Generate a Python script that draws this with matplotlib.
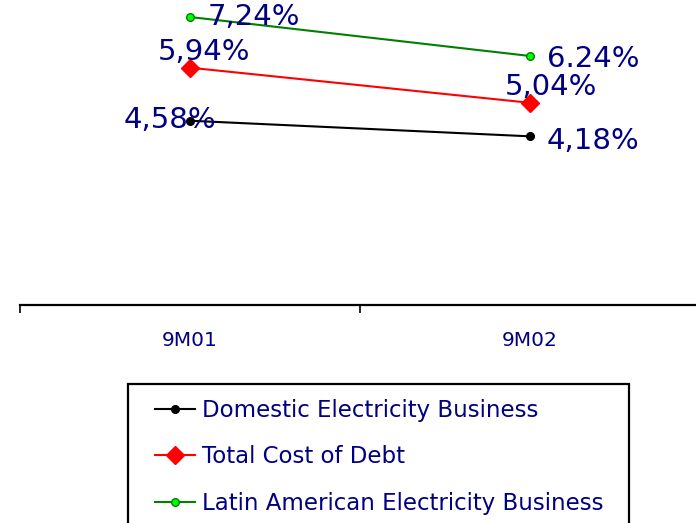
import matplotlib
matplotlib.use("Agg")
import matplotlib.pyplot as plt
from matplotlib.patches import Rectangle

categories = ["9M01", "9M02"]
domestic = [4.58, 4.18]
total_cost = [5.94, 5.04]
latam = [7.24, 6.24]
domestic_labels = ["4,58%", "4,18%"]
total_labels = ["5,94%", "5,04%"]
latam_labels = ["7,24%", "6.24%"]
series_names = ["Domestic Electricity Business", "Total Cost of Debt",
                "Latin American Electricity Business"]

W, H = 696, 523
fig = plt.figure(figsize=(W / 100, H / 100), dpi=100)
ax = fig.add_axes([20 / W, (H - 305) / H, 680 / W, 305 / H])

x = list(range(len(categories)))
label_color = "#000080"

l1, = ax.plot(x, domestic, color="black", lw=1.5, marker="o", ms=5.5,
              mfc="black", mec="black", label=series_names[0])
l2, = ax.plot(x, total_cost, color="red", lw=1.5, marker="D", ms=9,
              mfc="red", mec="red", label=series_names[1])
l3, = ax.plot(x, latam, color="#008000", lw=1.5, marker="o", ms=5.5,
              mfc="#00ff00", mec="#008000", mew=1, label=series_names[2])

fs = 21
# data labels
offs_latam = [(18, 0, "left"), (17, -3, "left")]
offs_total = [(14, 16, "center"), (21, 16, "center")]
offs_dom = [(-20, 1, "center"), (17, -5, "left")]
for vals, labs, offs in [(latam, latam_labels, offs_latam),
                         (total_cost, total_labels, offs_total),
                         (domestic, domestic_labels, offs_dom)]:
    for xi, v, lab, (dx, dy, ha) in zip(x, vals, labs, offs):
        ax.annotate(lab, (xi, v), xytext=(dx, dy), textcoords="offset pixels",
                    ha=ha, va="center", fontsize=fs, color=label_color)

ax.set_xlim(-0.5, 1.5)
ax.set_ylim(-0.145, 7.24 + 17 / 39)

for s in ["top", "left", "right"]:
    ax.spines[s].set_visible(False)
ax.spines["bottom"].set_linewidth(1.6)
ax.set_yticks([])
ax.set_xticks(x)
ax.set_xticklabels(categories, fontsize=14.5, color=label_color)
ax.tick_params(axis="x", which="major", length=0, pad=19)
ax.set_xticks([-0.5, 0.5, 1.5], minor=True)
ax.tick_params(axis="x", which="minor", length=5.8, width=1.2, direction="out")

# legend box
fig.patches.append(Rectangle((128 / W, -0.02), (629 - 128) / W, (H - 384) / H + 0.02,
                             transform=fig.transFigure, fill=False,
                             edgecolor="black", lw=1.6, clip_on=False))
leg = fig.legend(handles=[l1, l2, l3], loc="upper left",
                 bbox_to_anchor=(155 / W, (H - 399) / H), frameon=False,
                 fontsize=16.5, handlelength=1.75, handletextpad=0.3,
                 labelspacing=1.02, borderpad=0, borderaxespad=0)
for t in leg.get_texts():
    t.set_color(label_color)

fig.savefig("out.png", dpi=100)
